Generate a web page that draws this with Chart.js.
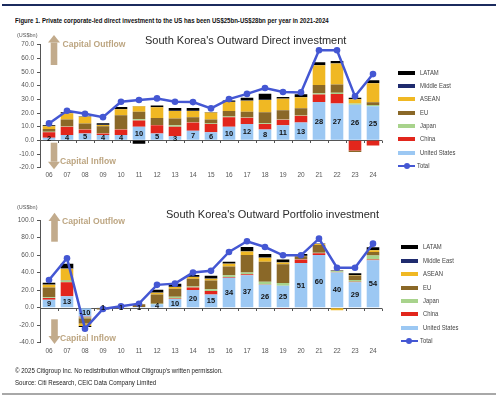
<!DOCTYPE html>
<html><head><meta charset="utf-8">
<script src="https://cdn.jsdelivr.net/npm/chart.js@4.4.1/dist/chart.umd.min.js"></script>
<style>
body{margin:0;background:#fff;width:500px;height:399px;overflow:hidden;position:relative;font-family:"Liberation Sans",Arial,sans-serif;}
.abs{position:absolute;white-space:nowrap;}
.sq{transform-origin:0 50%;}
.ttl{font-size:11px;line-height:12px;color:#2a2a2a;}
.cap{font-size:8.6px;line-height:10px;font-weight:bold;color:#bda682;}
.unit{font-size:5.5px;line-height:6px;color:#555;}
.leg{font-size:7.2px;line-height:8px;color:#444;transform:scaleX(0.82);transform-origin:0 50%;}
canvas{position:absolute;left:0;}
</style></head><body>
<div class="abs" style="left:2px;top:4px;width:494px;height:2px;background:#1b2b5e"></div>
<div class="abs sq" style="left:15px;top:17px;font-size:6.8px;line-height:8px;font-weight:bold;color:#111;transform:scaleX(0.89);">Figure 1. Private corporate-led direct investment to the US has been US$25bn-US$28bn per year in 2021-2024</div>

<canvas id="c1" width="500" height="160" style="top:30px"></canvas>
<canvas id="c2" width="500" height="155" style="top:205px"></canvas>

<svg class="abs" style="left:0;top:0" width="500" height="399">
  <g fill="#c2ab8c">
    <polygon points="48,42.5 54,35 60,42.5"/><rect x="50.7" y="42.5" width="6.6" height="22.5"/>
    <polygon points="48,161.7 54,169.3 60,161.7"/><rect x="50.7" y="142.7" width="6.6" height="19"/>
    <polygon points="48.5,221 54.5,212.7 60.5,221"/><rect x="51.2" y="221" width="6.6" height="20.7"/>
    <polygon points="48.5,336 54.5,344 60.5,336"/><rect x="51.2" y="319.3" width="6.6" height="16.7"/>
  </g>
</svg>

<div class="abs unit" style="left:17px;top:31.7px">(US$bn)</div>
<div class="abs unit" style="left:17px;top:203.7px">(US$bn)</div>
<div class="abs cap" style="left:62.5px;top:39px">Capital Outflow</div>
<div class="abs cap" style="left:60px;top:155.7px">Capital Inflow</div>
<div class="abs cap" style="left:62px;top:215.7px">Capital Outflow</div>
<div class="abs cap" style="left:60px;top:333px">Capital Inflow</div>
<div class="abs ttl" style="left:145px;top:34px">South Korea's Outward Direct investment</div>
<div class="abs ttl" style="left:166px;top:208.3px">South Korea's Outward Portfolio investment</div>

<div id="leg1"></div><div id="leg2"></div>

<div class="abs sq" style="left:15px;top:367px;font-size:6.5px;line-height:7px;color:#222;transform:scaleX(0.94);">© 2025 Citigroup Inc. No redistribution without Citigroup's written permission.</div>
<div class="abs sq" style="left:15px;top:379px;font-size:6.5px;line-height:7px;color:#222;transform:scaleX(0.94);">Source: Citi Research, CEIC Data Company Limited</div>
<div class="abs" style="left:2px;top:393px;width:494px;height:2px;background:#a8a8a8"></div>

<script>
const years = ['06','07','08','09','10','11','12','13','14','15','16','17','18','19','20','21','22','23','24'];
const seriesNames = ['United States','China','Japan','EU','ASEAN','Middle East','LATAM'];
const seriesColors = ['#9cc8f3','#e2261c','#a8d38c','#8a6828','#f0b823','#1f2b6e','#000000'];
const totalName = 'Total';
const totalColor = '#4457d3';

// Direct investment (US$bn)
const dUS    = [2,4,5,4,4,10,5,3,7,6,10,12,8,11,13,28,27,26,25];
const dChina = [4,6,3,1,4,4.5,6,7,6,6,7,4.5,4,4,5,5.5,7,-7.5,-3.7];
const dJapan = [0.3,0.3,0.3,0.3,0.3,1,0.3,1,0.5,0.3,0.5,0.5,0.5,0.5,0.5,1,0.8,1,0.8];
const dEU    = [2,5,4,5,10,5.5,5,5,3.5,3,4,4,8,6.5,5,6,6,-1,2];
const dASEAN = [2,4.5,5,1,4.5,4,8,5.5,4.5,5,6.5,8,9,8.5,8,14.5,15.5,3,14];
const dME    = [0.2,0.2,0.2,0.2,0.2,0.2,0.2,0.2,0.2,0.2,0.2,0.2,0.2,0.2,0.2,0.2,0.2,0.2,0.2];
const dLATAM = [0.5,0.5,0.2,1,1.5,-2.5,1,2,2,0.2,1,2,4.5,1,2,2,1.5,1,2];
const dTotal = [12.4,21.7,19.5,17,28.3,29.5,30.7,28.3,28,23.4,30.2,34,38.3,35.4,35.1,65.9,65.9,32.2,48.5];

// Portfolio investment (US$bn)
const pUS    = [9,13,-10,0.6,0.6,0.8,4,10,20,15,34,37,26,25,51,60,40,29,54];
const pChina = [2,16,-1,0,0,0,0,0.5,3,4,1,1,0.5,-1,4,2,0.5,0.5,1];
const pJapan = [1,2,-1,0,0,0,0.5,2,1,2,2,2,3,3,0.5,0.5,1,2,4.5];
const pEU    = [11,0.5,-6,-2,-1,3,10.5,9,9,10,10,20,23,21.5,3,9,0.5,5,4];
const pASEAN = [3,13,-3,0,0,0,2,2,2,2,3,4,4.5,2,0.5,1,-3,0.5,2];
const pME    = [0.3,0.5,0,0,0,0,0.3,0.3,0.3,0.3,0.3,0.3,0.3,0.3,0.3,0.3,0.3,0.3,0.3];
const pLATAM = [2,5,-1,0,0,0,3,3.5,2,3,2,5,4,3,2,0.5,0.5,2,3];
const pTotal = [31.6,56.3,-24,-1.5,1.5,4.5,26,27.4,40,42,63.5,75.7,69.2,59.7,59.7,78.7,45.6,45.6,73];

const overlay = {
  id:'overlay',
  beforeDatasetsDraw(chart){
    const ctx=chart.ctx, a=chart.chartArea, y=chart.scales.y;
    const y0=Math.round(y.getPixelForValue(0))+0.5;
    const n=chart.data.labels.length, w=(a.right-a.left)/n;
    ctx.save();
    ctx.strokeStyle='#555'; ctx.lineWidth=1;
    ctx.beginPath(); ctx.moveTo(a.left,y0); ctx.lineTo(a.right,y0);
    for(let i=1;i<=n;i++){const px=Math.round(a.left+i*w)+0.5; ctx.moveTo(px,y0); ctx.lineTo(px,y0+2.5);}
    ctx.stroke(); ctx.restore();
  },
  afterDatasetsDraw(chart){
    const ctx=chart.ctx, meta=chart.getDatasetMeta(0), vals=chart.data.datasets[0].data;
    ctx.save();
    ctx.font='bold 7.5px "Liberation Sans", Arial, sans-serif';
    ctx.fillStyle='#111'; ctx.textAlign='center'; ctx.textBaseline='middle';
    meta.data.forEach((el,i)=>{ ctx.fillText(String(Math.round(vals[i])), el.x, (el.y+el.base)/2+0.5); });
    ctx.restore();
  }
};

function makeChart(id, series, total, cfg){
  const bars = series.map((d,i)=>({type:'bar',label:seriesNames[i],data:d,backgroundColor:seriesColors[i],
     stack:'a',order:1,barPercentage:0.7,categoryPercentage:1,borderWidth:0}));
  const line = {type:'line',label:totalName,data:total,borderColor:totalColor,backgroundColor:totalColor,
     borderWidth:2.5,pointRadius:3.3,pointBackgroundColor:totalColor,pointBorderWidth:0,stack:'total',order:0,tension:0};
  return new Chart(document.getElementById(id),{
    type:'bar',
    data:{labels:years,datasets:[...bars,line]},
    options:{
      responsive:false,animation:false,devicePixelRatio:1,
      layout:{padding:{top:cfg.padTop,right:118,left:0,bottom:0}},
      plugins:{legend:{display:false},tooltip:{enabled:false}},
      scales:{
        x:{stacked:true,grid:{display:false,drawTicks:false},border:{display:false},
           ticks:{padding:cfg.xPad,color:'#555',font:{size:6.5,family:'"Liberation Sans", Arial'},maxRotation:0,autoSkip:false},
           afterFit(s){s.height=cfg.xH;}},
        y:{stacked:true,min:cfg.min,max:cfg.max,
           ticks:{stepSize:cfg.step,padding:3,color:'#555',font:{size:6.5,family:'"Liberation Sans", Arial'},callback:v=>v.toFixed(1)},
           grid:{drawOnChartArea:false,drawTicks:true,tickLength:3,tickColor:'#555'},
           border:{display:true,color:'#555'},
           afterFit(s){s.width=40;}}
      }
    },
    plugins:[overlay]
  });
}

makeChart('c1',[dUS,dChina,dJapan,dEU,dASEAN,dME,dLATAM],dTotal,{padTop:14.7,xH:22.3,xPad:4,min:-20,max:70,step:10});
makeChart('c2',[pUS,pChina,pJapan,pEU,pASEAN,pME,pLATAM],pTotal,{padTop:15,xH:17.3,xPad:5,min:-40,max:100,step:20});

function legend(id,x,y0,dy){
  const host=document.getElementById(id);
  const order=[6,5,4,3,2,1,0];
  let html='';
  order.forEach((k,r)=>{
    const cy=y0+r*dy;
    html+=`<div class="abs" style="left:${x}px;top:${cy-2}px;width:17px;height:4px;background:${seriesColors[k]}"></div>`;
    html+=`<div class="abs leg" style="left:${x+22}px;top:${cy-4}px">${seriesNames[k]}</div>`;
  });
  const cy=y0+7*dy;
  html+=`<div class="abs" style="left:${x}px;top:${cy-1}px;width:17px;height:2px;background:${totalColor}"></div>`;
  html+=`<div class="abs" style="left:${x+5.5}px;top:${cy-3}px;width:6px;height:6px;border-radius:50%;background:${totalColor}"></div>`;
  html+=`<div class="abs leg" style="left:${x+19}px;top:${cy-4}px">${totalName}</div>`;
  host.innerHTML=html;
}
legend('leg1',398,72.7,13.33);
legend('leg2',400.5,247.3,13.4);
</script>
</body></html>
